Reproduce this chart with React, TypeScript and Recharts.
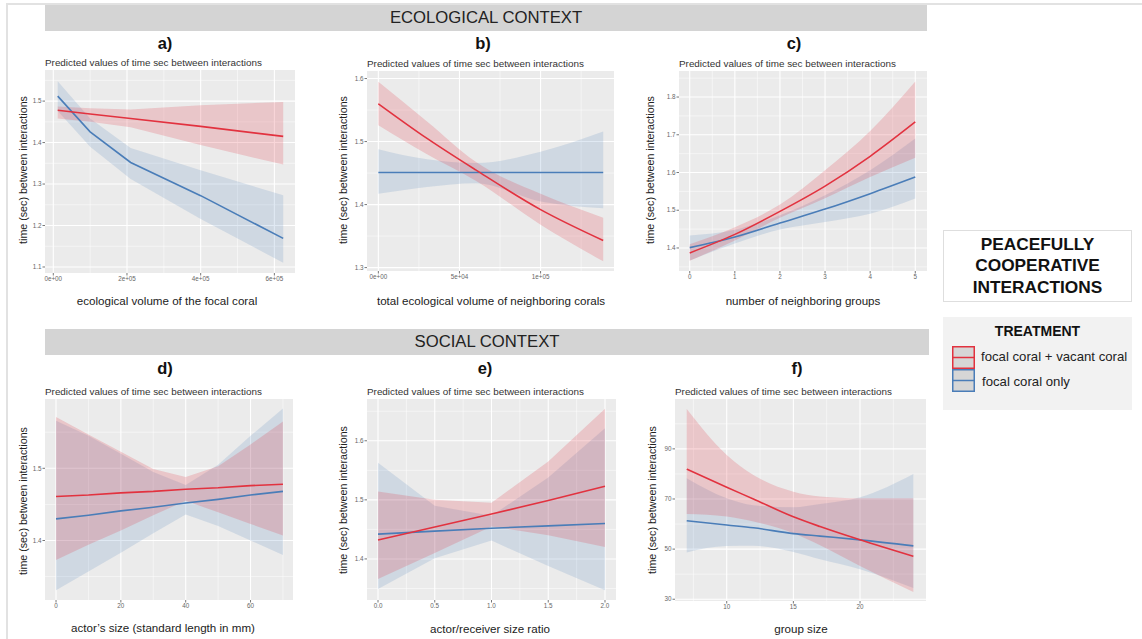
import React from "react";
import { ComposedChart, Area, Line, XAxis, YAxis, CartesianGrid } from "recharts";

const RED = "#e2323f";
const BLUE = "#4a7db8";
const FONT = "'Liberation Sans', Arial, Helvetica, sans-serif";
const SUBTITLE = "Predicted values of time sec between interactions";
const YLABEL = "time (sec) between interactions";

// a) ecological volume of the focal coral
const aX = [12000, 100000, 210000, 400000, 624000];
const aRedFit = [1.478, 1.469, 1.458, 1.439, 1.415];
const aRedLo = [1.458, 1.45, 1.437, 1.394, 1.347];
const aRedHi = [1.487, 1.483, 1.48, 1.49, 1.498];
const aBlueFit = [1.512, 1.426, 1.352, 1.272, 1.169];
const aBlueLo = [1.476, 1.39, 1.312, 1.216, 1.11];
const aBlueHi = [1.548, 1.458, 1.387, 1.333, 1.273];

// b) total ecological volume of neighboring corals
const bX = [0, 30000, 60000, 100000, 138600];
const bRedFit = [1.56, 1.505, 1.455, 1.392, 1.343];
const bRedLo = [1.526, 1.48, 1.438, 1.368, 1.31];
const bRedHi = [1.595, 1.532, 1.468, 1.417, 1.379];
const bBlueFit = [1.451, 1.451, 1.451, 1.451, 1.451];
const bBlueLo = [1.417, 1.428, 1.434, 1.405, 1.394];
const bBlueHi = [1.488, 1.472, 1.466, 1.484, 1.516];

// c) number of neighboring groups
const cX = [0, 1, 2, 3, 4, 5];
const cRedFit = [1.387, 1.436, 1.497, 1.564, 1.643, 1.734];
const cRedLo = [1.366, 1.42, 1.48, 1.532, 1.588, 1.639];
const cRedHi = [1.41, 1.455, 1.515, 1.606, 1.71, 1.841];
const cBlueFit = [1.401, 1.429, 1.466, 1.503, 1.544, 1.588];
const cBlueLo = [1.367, 1.412, 1.449, 1.469, 1.491, 1.531];
const cBlueHi = [1.433, 1.448, 1.487, 1.54, 1.606, 1.69];

// d) actor's size
const dX = [0, 10, 20, 30, 40, 50, 60, 70];
const dRedFit = [1.461, 1.463, 1.466, 1.468, 1.471, 1.473, 1.476, 1.478];
const dRedLo = [1.373, 1.394, 1.414, 1.435, 1.455, 1.439, 1.423, 1.407];
const dRedHi = [1.571, 1.547, 1.523, 1.499, 1.488, 1.503, 1.533, 1.565];
const dBlueFit = [1.43, 1.435, 1.441, 1.446, 1.452, 1.457, 1.463, 1.468];
const dBlueLo = [1.331, 1.357, 1.383, 1.41, 1.436, 1.42, 1.4, 1.38];
const dBlueHi = [1.566, 1.545, 1.52, 1.495, 1.477, 1.505, 1.545, 1.583];

// e) actor/receiver size ratio
const eX = [0, 0.5, 1, 1.5, 2];
const eRedFit = [1.432, 1.454, 1.476, 1.499, 1.523];
const eRedLo = [1.366, 1.41, 1.455, 1.44, 1.42];
const eRedHi = [1.514, 1.5, 1.495, 1.565, 1.654];
const eBlueFit = [1.442, 1.447, 1.452, 1.456, 1.46];
const eBlueLo = [1.349, 1.401, 1.431, 1.388, 1.347];
const eBlueHi = [1.563, 1.49, 1.473, 1.538, 1.621];

// f) group size
const fX = [7, 10, 12, 15, 17, 20, 24];
const fRedFit = [81.9, 74.7, 70, 62.9, 59, 53.7, 47.1];
const fRedLo = [64, 63, 61, 56.3, 51.5, 43.3, 32.9];
const fRedHi = [105.9, 87.6, 79.6, 72.9, 71, 70.3, 70.3];
const fBlueFit = [61.3, 59.6, 58.5, 56.2, 55.2, 53.7, 51.3];
const fBlueLo = [48.7, 51.2, 51.3, 48.9, 46, 42, 34.5];
const fBlueHi = [78.3, 70.3, 67.5, 66.7, 68, 70.7, 80];

type Series = {
  x: number[];
  redFit: number[];
  redLo: number[];
  redHi: number[];
  blueFit: number[];
  blueLo: number[];
  blueHi: number[];
};

function toRows(s: Series) {
  return s.x.map((x, i) => ({
    x,
    red: s.redFit[i],
    blue: s.blueFit[i],
    redBand: [s.redLo[i], s.redHi[i]],
    blueBand: [s.blueLo[i], s.blueHi[i]],
  }));
}

function minors(ticks: number[], domain: [number, number]) {
  const step = ticks[1] - ticks[0];
  const out: number[] = [];
  for (let v = ticks[0] - step / 2; v <= domain[1]; v += step) {
    if (v >= domain[0]) out.push(v);
  }
  return out;
}

type PanelProps = {
  letter: string;
  series: Series;
  plot: { left: number; top: number; width: number; height: number };
  xDomain: [number, number];
  yDomain: [number, number];
  xTicks: number[];
  yTicks: number[];
  xFmt: (v: number) => string;
  yFmt: (v: number) => string;
  curve: "linear" | "monotone";
  xLabel: string;
  xLabelPos: [number, number];
  yLabelPos: [number, number];
  letterPos: [number, number];
};

const YW = 30;
const XH = 14;

function Panel(p: PanelProps) {
  const rows = toRows(p.series);
  const { left, top, width, height } = p.plot;
  return (
    <>
      <div
        style={{
          position: "absolute",
          left: p.letterPos[0],
          top: p.letterPos[1],
          transform: "translate(-50%, -50%)",
          fontSize: 16.5,
          fontWeight: "bold",
          color: "#111",
        }}
      >
        {p.letter}
      </div>
      <div
        style={{
          position: "absolute",
          left: left,
          top: top - 8,
          transform: "translateY(-50%)",
          fontSize: 9.9,
          color: "#333",
          whiteSpace: "nowrap",
        }}
      >
        {SUBTITLE}
      </div>
      <div style={{ position: "absolute", left: left - YW, top: top }}>
        <ComposedChart
          width={width + YW}
          height={height + XH}
          data={rows}
          margin={{ top: 0, right: 0, bottom: 0, left: 0 }}
        >
          <CartesianGrid
            fill="#ebebeb"
            stroke="#ffffff"
            strokeWidth={0.5}
            horizontalValues={minors(p.yTicks, p.yDomain)}
            verticalValues={minors(p.xTicks, p.xDomain)}
          />
          <CartesianGrid
            stroke="#ffffff"
            strokeWidth={1.1}
            horizontalValues={p.yTicks}
            verticalValues={p.xTicks}
          />
          <XAxis
            dataKey="x"
            type="number"
            domain={p.xDomain}
            ticks={p.xTicks}
            interval={0}
            allowDataOverflow
            height={XH}
            axisLine={false}
            tickSize={2.5}
            tickMargin={1}
            tickLine={{ stroke: "#777" }}
            tick={{ fontSize: 6.3, fill: "#666", fontFamily: FONT }}
            tickFormatter={p.xFmt}
          />
          <YAxis
            type="number"
            domain={p.yDomain}
            ticks={p.yTicks}
            interval={0}
            allowDataOverflow
            width={YW}
            axisLine={false}
            tickSize={2.5}
            tickMargin={1}
            tickLine={{ stroke: "#777" }}
            tick={{ fontSize: 6.3, fill: "#666", fontFamily: FONT }}
            tickFormatter={p.yFmt}
          />
          <Area
            dataKey="blueBand"
            type={p.curve}
            fill={BLUE}
            fillOpacity={0.17}
            stroke="none"
            isAnimationActive={false}
            activeDot={false}
          />
          <Area
            dataKey="redBand"
            type={p.curve}
            fill={RED}
            fillOpacity={0.2}
            stroke="none"
            isAnimationActive={false}
            activeDot={false}
          />
          <Line
            dataKey="blue"
            type={p.curve}
            stroke={BLUE}
            strokeWidth={1.6}
            dot={false}
            isAnimationActive={false}
          />
          <Line
            dataKey="red"
            type={p.curve}
            stroke={RED}
            strokeWidth={1.6}
            dot={false}
            isAnimationActive={false}
          />
        </ComposedChart>
      </div>
      <div
        style={{
          position: "absolute",
          left: p.yLabelPos[0],
          top: p.yLabelPos[1],
          transform: "translate(-50%, -50%) rotate(-90deg)",
          fontSize: 10.7,
          color: "#222",
          whiteSpace: "nowrap",
        }}
      >
        {YLABEL}
      </div>
      <div
        style={{
          position: "absolute",
          left: p.xLabelPos[0],
          top: p.xLabelPos[1],
          transform: "translate(-50%, -50%)",
          fontSize: 11.6,
          color: "#222",
          whiteSpace: "nowrap",
        }}
      >
        {p.xLabel}
      </div>
    </>
  );
}

const sci = (v: number) => {
  if (v === 0) return "0e+00";
  const e = Math.floor(Math.log10(Math.abs(v)));
  const m = Math.round(v / Math.pow(10, e));
  return `${m}e+${String(e).padStart(2, "0")}`;
};
const one = (v: number) => v.toFixed(1);
const plain = (v: number) => String(v);

function LegendKey({ color }: { color: string }) {
  return (
    <svg width={23} height={23} style={{ display: "block" }}>
      <rect x={0.75} y={0.75} width={21.5} height={21.5} fill="#d6d6d6" stroke={color} strokeWidth={1.5} />
      <line x1={0.75} x2={22.25} y1={11.5} y2={11.5} stroke={color} strokeWidth={1.5} />
    </svg>
  );
}

export default function App() {
  return (
    <div
      style={{
        position: "absolute",
        left: 0,
        top: 0,
        width: 1142,
        height: 639,
        background: "#fff",
        fontFamily: FONT,
        overflow: "hidden",
      }}
    >
      {/* frame */}
      <div style={{ position: "absolute", left: 6, top: 3, width: 1136, height: 2, background: "#e2e2e2" }} />
      <div style={{ position: "absolute", left: 6, top: 3, width: 2, height: 636, background: "#e2e2e2" }} />

      {/* banners */}
      <div
        style={{
          position: "absolute",
          left: 45,
          top: 5,
          width: 882,
          height: 26,
          background: "#d4d4d4",
          display: "flex",
          alignItems: "center",
          justifyContent: "center",
          fontSize: 16.7,
          color: "#222",
        }}
      >
        ECOLOGICAL CONTEXT
      </div>
      <div
        style={{
          position: "absolute",
          left: 45,
          top: 329,
          width: 884,
          height: 26,
          background: "#d4d4d4",
          display: "flex",
          alignItems: "center",
          justifyContent: "center",
          fontSize: 16.7,
          color: "#222",
        }}
      >
        SOCIAL CONTEXT
      </div>

      <Panel
        letter="a)"
        series={{ x: aX, redFit: aRedFit, redLo: aRedLo, redHi: aRedHi, blueFit: aBlueFit, blueLo: aBlueLo, blueHi: aBlueHi }}
        plot={{ left: 45, top: 70, width: 250, height: 203 }}
        xDomain={[-22500, 656000]}
        yDomain={[1.0855, 1.575]}
        xTicks={[0, 200000, 400000, 600000]}
        yTicks={[1.1, 1.2, 1.3, 1.4, 1.5]}
        xFmt={sci}
        yFmt={one}
        curve="linear"
        xLabel="ecological volume of the focal coral"
        xLabelPos={[167, 300]}
        yLabelPos={[23, 170]}
        letterPos={[165, 43]}
      />
      <Panel
        letter="b)"
        series={{ x: bX, redFit: bRedFit, redLo: bRedLo, redHi: bRedHi, blueFit: bBlueFit, blueLo: bBlueLo, blueHi: bBlueHi }}
        plot={{ left: 367, top: 71, width: 247, height: 200 }}
        xDomain={[-7000, 145250]}
        yDomain={[1.2946, 1.612]}
        xTicks={[0, 50000, 100000]}
        yTicks={[1.3, 1.4, 1.5, 1.6]}
        xFmt={sci}
        yFmt={one}
        curve="monotone"
        xLabel="total ecological volume of neighboring corals"
        xLabelPos={[491, 300]}
        yLabelPos={[343, 170]}
        letterPos={[483, 43]}
      />
      <Panel
        letter="c)"
        series={{ x: cX, redFit: cRedFit, redLo: cRedLo, redHi: cRedHi, blueFit: cBlueFit, blueLo: cBlueLo, blueHi: cBlueHi }}
        plot={{ left: 679, top: 71, width: 248, height: 200 }}
        xDomain={[-0.238, 5.26]}
        yDomain={[1.339, 1.869]}
        xTicks={[0, 1, 2, 3, 4, 5]}
        yTicks={[1.4, 1.5, 1.6, 1.7, 1.8]}
        xFmt={plain}
        yFmt={one}
        curve="monotone"
        xLabel="number of neighboring groups"
        xLabelPos={[803, 300]}
        yLabelPos={[650, 170]}
        letterPos={[794, 43]}
      />
      <Panel
        letter="d)"
        series={{ x: dX, redFit: dRedFit, redLo: dRedLo, redHi: dRedHi, blueFit: dBlueFit, blueLo: dBlueLo, blueHi: dBlueHi }}
        plot={{ left: 45, top: 399, width: 248, height: 201 }}
        xDomain={[-3.4, 73.1]}
        yDomain={[1.3176, 1.596]}
        xTicks={[0, 20, 40, 60]}
        yTicks={[1.4, 1.5]}
        xFmt={plain}
        yFmt={one}
        curve="linear"
        xLabel="actor’s size (standard length in mm)"
        xLabelPos={[163, 627]}
        yLabelPos={[23, 501]}
        letterPos={[165, 368]}
      />
      <Panel
        letter="e)"
        series={{ x: eX, redFit: eRedFit, redLo: eRedLo, redHi: eRedHi, blueFit: eBlueFit, blueLo: eBlueLo, blueHi: eBlueHi }}
        plot={{ left: 367, top: 399, width: 249, height: 201 }}
        xDomain={[-0.097, 2.097]}
        yDomain={[1.3305, 1.6707]}
        xTicks={[0, 0.5, 1, 1.5, 2]}
        yTicks={[1.4, 1.5, 1.6]}
        xFmt={one}
        yFmt={one}
        curve="linear"
        xLabel="actor/receiver size ratio"
        xLabelPos={[490, 628]}
        yLabelPos={[343, 500]}
        letterPos={[485, 368]}
      />
      <Panel
        letter="f)"
        series={{ x: fX, redFit: fRedFit, redLo: fRedLo, redHi: fRedHi, blueFit: fBlueFit, blueLo: fBlueLo, blueHi: fBlueHi }}
        plot={{ left: 675, top: 399, width: 251, height: 202 }}
        xDomain={[6.12, 24.95]}
        yDomain={[29.3, 109.9]}
        xTicks={[10, 15, 20]}
        yTicks={[30, 50, 70, 90]}
        xFmt={plain}
        yFmt={plain}
        curve="monotone"
        xLabel="group size"
        xLabelPos={[801, 628]}
        yLabelPos={[652, 500]}
        letterPos={[797, 368]}
      />

      {/* right side title */}
      <div
        style={{
          position: "absolute",
          left: 943,
          top: 230,
          width: 187,
          height: 70,
          border: "1px solid #dedede",
          display: "flex",
          flexDirection: "column",
          alignItems: "center",
          justifyContent: "center",
          fontSize: 17.3,
          fontWeight: "bold",
          lineHeight: "21.5px",
          color: "#111",
        }}
      >
        <div>PEACEFULLY</div>
        <div>COOPERATIVE</div>
        <div>INTERACTIONS</div>
      </div>

      {/* legend */}
      <div
        style={{
          position: "absolute",
          left: 943,
          top: 317,
          width: 189,
          height: 93,
          background: "#f2f2f2",
        }}
      >
        <div
          style={{
            position: "absolute",
            left: 0,
            width: 189,
            top: 6,
            textAlign: "center",
            fontSize: 14,
            fontWeight: "bold",
            color: "#111",
          }}
        >
          TREATMENT
        </div>
        <div style={{ position: "absolute", left: 9, top: 29 }}>
          <LegendKey color={RED} />
        </div>
        <div style={{ position: "absolute", left: 9, top: 52 }}>
          <LegendKey color={BLUE} />
        </div>
        <div style={{ position: "absolute", left: 38, top: 32, fontSize: 13.2, color: "#222", whiteSpace: "nowrap" }}>
          focal coral + vacant coral
        </div>
        <div style={{ position: "absolute", left: 39, top: 57, fontSize: 13.2, color: "#222", whiteSpace: "nowrap" }}>
          focal coral only
        </div>
      </div>
    </div>
  );
}
